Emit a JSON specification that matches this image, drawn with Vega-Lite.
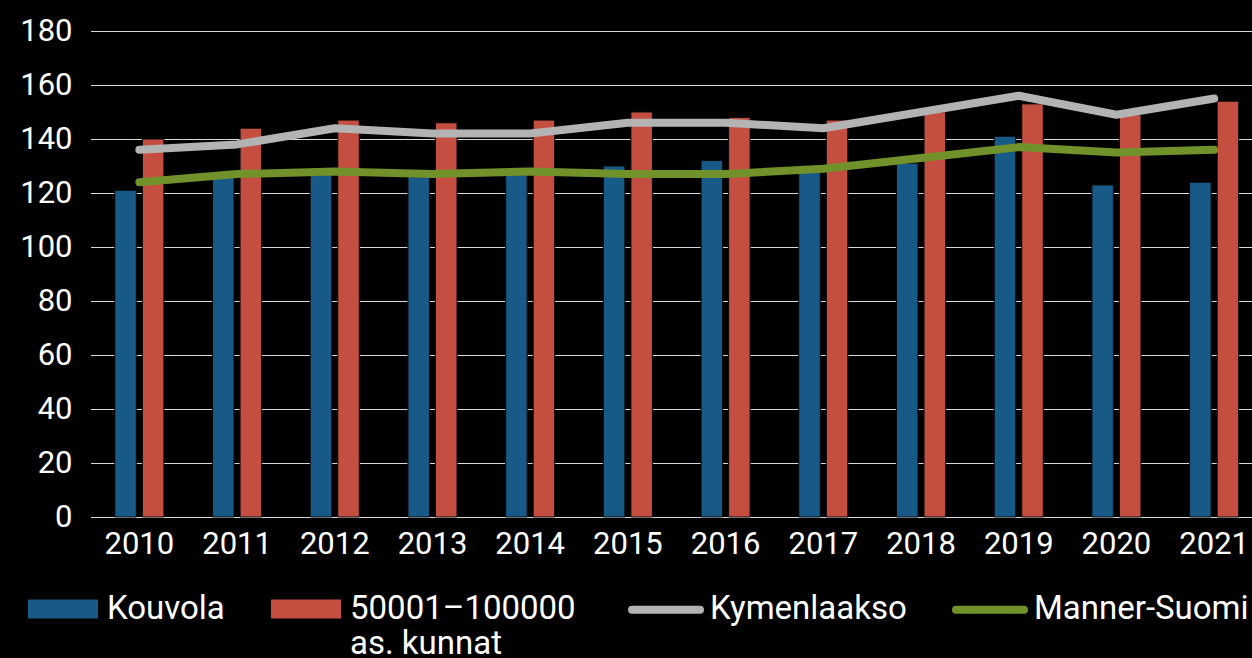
{
  "$schema": "https://vega.github.io/schema/vega-lite/v6.json",
  "width": 1163,
  "height": 486,
  "autosize": {"type": "none"},
  "padding": {"left": 89, "top": 31, "right": 0, "bottom": 141},
  "background": "#000000",
  "config": {
    "view": {"stroke": null},
    "font": "Roboto",
    "axis": {"labelFont": "Roboto", "labelColor": "#ffffff", "labelFontSize": 31, "title": null, "domain": false, "ticks": false}
  },
  "datasets": {
    "bars": [
      {"year": "2010", "series": "Kouvola", "value": 121},
      {"year": "2011", "series": "Kouvola", "value": 126},
      {"year": "2012", "series": "Kouvola", "value": 127},
      {"year": "2013", "series": "Kouvola", "value": 126},
      {"year": "2014", "series": "Kouvola", "value": 127},
      {"year": "2015", "series": "Kouvola", "value": 130},
      {"year": "2016", "series": "Kouvola", "value": 132},
      {"year": "2017", "series": "Kouvola", "value": 128},
      {"year": "2018", "series": "Kouvola", "value": 131},
      {"year": "2019", "series": "Kouvola", "value": 141},
      {"year": "2020", "series": "Kouvola", "value": 123},
      {"year": "2021", "series": "Kouvola", "value": 124},
      {"year": "2010", "series": "50001–100000 as. kunnat", "value": 140},
      {"year": "2011", "series": "50001–100000 as. kunnat", "value": 144},
      {"year": "2012", "series": "50001–100000 as. kunnat", "value": 147},
      {"year": "2013", "series": "50001–100000 as. kunnat", "value": 146},
      {"year": "2014", "series": "50001–100000 as. kunnat", "value": 147},
      {"year": "2015", "series": "50001–100000 as. kunnat", "value": 150},
      {"year": "2016", "series": "50001–100000 as. kunnat", "value": 148},
      {"year": "2017", "series": "50001–100000 as. kunnat", "value": 147},
      {"year": "2018", "series": "50001–100000 as. kunnat", "value": 150},
      {"year": "2019", "series": "50001–100000 as. kunnat", "value": 153},
      {"year": "2020", "series": "50001–100000 as. kunnat", "value": 149},
      {"year": "2021", "series": "50001–100000 as. kunnat", "value": 154}
    ],
    "lines": [
      {"year": "2010", "series": "Kymenlaakso", "value": 136},
      {"year": "2011", "series": "Kymenlaakso", "value": 138},
      {"year": "2012", "series": "Kymenlaakso", "value": 144},
      {"year": "2013", "series": "Kymenlaakso", "value": 142},
      {"year": "2014", "series": "Kymenlaakso", "value": 142},
      {"year": "2015", "series": "Kymenlaakso", "value": 146},
      {"year": "2016", "series": "Kymenlaakso", "value": 146},
      {"year": "2017", "series": "Kymenlaakso", "value": 144},
      {"year": "2018", "series": "Kymenlaakso", "value": 150},
      {"year": "2019", "series": "Kymenlaakso", "value": 156},
      {"year": "2020", "series": "Kymenlaakso", "value": 149},
      {"year": "2021", "series": "Kymenlaakso", "value": 155},
      {"year": "2010", "series": "Manner-Suomi", "value": 124},
      {"year": "2011", "series": "Manner-Suomi", "value": 127},
      {"year": "2012", "series": "Manner-Suomi", "value": 128},
      {"year": "2013", "series": "Manner-Suomi", "value": 127},
      {"year": "2014", "series": "Manner-Suomi", "value": 128},
      {"year": "2015", "series": "Manner-Suomi", "value": 127},
      {"year": "2016", "series": "Manner-Suomi", "value": 127},
      {"year": "2017", "series": "Manner-Suomi", "value": 129},
      {"year": "2018", "series": "Manner-Suomi", "value": 133},
      {"year": "2019", "series": "Manner-Suomi", "value": 137},
      {"year": "2020", "series": "Manner-Suomi", "value": 135},
      {"year": "2021", "series": "Manner-Suomi", "value": 136}
    ]
  },
  "layer": [
    {
      "data": {"name": "bars"},
      "mark": {"type": "bar", "stroke": "#0a0a0a", "strokeWidth": 1},
      "encoding": {
        "x": {
          "field": "year", "type": "ordinal",
          "scale": {"range": [1.5, 1174], "paddingInner": 0.498, "paddingOuter": 0.249},
          "axis": {"labelAngle": 0, "labelPadding": 12, "labelBaseline": "top"}
        },
        "xOffset": {
          "field": "series",
          "scale": {"domain": ["Kouvola", "50001–100000 as. kunnat"], "paddingInner": 0.22, "paddingOuter": 0}
        },
        "y": {
          "field": "value", "type": "quantitative",
          "scale": {"domain": [0, 180], "nice": false},
          "axis": {"values": [0, 20, 40, 60, 80, 100, 120, 140, 160, 180], "grid": true, "gridColor": "#d9d9d9", "gridWidth": 1, "labelPadding": 17}
        },
        "fill": {
          "field": "series", "type": "nominal",
          "scale": {"domain": ["Kouvola", "50001–100000 as. kunnat"], "range": ["#175a87", "#c44f40"]},
          "legend": {
            "orient": "none", "legendX": -61, "legendY": 543, "direction": "horizontal", "title": null,
            "symbolType": "M-1,-0.2714H1V0.2714H-1Z", "symbolSize": 4900, "symbolStrokeWidth": 0,
            "labelFont": "Roboto", "labelFontSize": 33, "labelColor": "#ffffff", "labelOffset": 9, "labelLimit": 400,
            "labelBaseline": "middle",
            "columnPadding": 46, "padding": 0,
            "labelExpr": "datum.label == '50001–100000 as. kunnat' ? ['50001–100000', 'as. kunnat'] : [datum.label, '']"
          }
        }
      }
    },
    {
      "data": {"name": "lines"},
      "mark": {"type": "line", "strokeWidth": 8, "strokeCap": "round", "strokeJoin": "round"},
      "encoding": {
        "x": {"field": "year", "type": "ordinal"},
        "y": {"field": "value", "type": "quantitative"},
        "stroke": {
          "field": "series", "type": "nominal",
          "scale": {"domain": ["Kymenlaakso", "Manner-Suomi"], "range": ["#b3b3b3", "#71912b"]},
          "legend": {
            "orient": "none", "legendX": 539, "legendY": 540.5, "direction": "horizontal", "title": null,
            "symbolType": "stroke", "symbolSize": 4624, "symbolStrokeWidth": 8,
            "labelFont": "Roboto", "labelFontSize": 33, "labelColor": "#ffffff", "labelOffset": 6, "labelLimit": 400,
            "labelBaseline": "alphabetic",
            "columnPadding": 33, "padding": 0,
            "encode": {"symbols": {"update": {"strokeCap": {"value": "round"}}}, "labels": {"update": {"dy": {"value": 9.5}}}}
          }
        }
      }
    }
  ]
}
